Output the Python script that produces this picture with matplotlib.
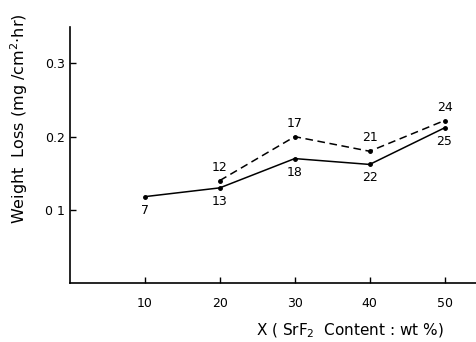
import matplotlib
matplotlib.use("Agg")
import matplotlib.pyplot as plt

# SrF2 content (wt%) and weight loss (mg/cm2.hr)
x_solid = [10, 20, 30, 40, 50]
y_solid = [0.118, 0.130, 0.170, 0.162, 0.212]
labels_solid = ["7", "13", "18", "22", "25"]

x_dash = [20, 30, 40, 50]
y_dash = [0.140, 0.200, 0.180, 0.222]
labels_dash = ["12", "17", "21", "24"]

xticks = [10, 20, 30, 40, 50]
yticks = [0.1, 0.2, 0.3]
ytick_labels = ["0 1", "0.2", "0.3"]

fig = plt.figure(figsize=(4.76, 3.42), dpi=100)
ax = fig.add_axes([0.147, 0.1725, 0.853, 0.749])

ax.plot(x_solid, y_solid, color="black", lw=1.1, marker="o", ms=2.5)
ax.plot(x_dash, y_dash, color="black", lw=1.1, ls=(0, (5, 3)), marker="o", ms=2.5)

for x, y, t in zip(x_solid, y_solid, labels_solid):
    ax.annotate(t, (x, y), xytext=(0, -5), textcoords="offset points",
                ha="center", va="top", fontsize=9)
for x, y, t in zip(x_dash, y_dash, labels_dash):
    ax.annotate(t, (x, y), xytext=(0, 5), textcoords="offset points",
                ha="center", va="bottom", fontsize=9)

ax.set_xlim(0, 54.2)
ax.set_ylim(0, 0.35)
ax.set_xticks(xticks)
ax.set_yticks(yticks)
ax.set_yticklabels(ytick_labels)
ax.tick_params(direction="in", length=4, labelsize=9, width=1)
ax.tick_params(axis="x", pad=10)

for s in ["top", "right"]:
    ax.spines[s].set_visible(False)
for s in ["left", "bottom"]:
    ax.spines[s].set_linewidth(1.2)

ax.set_ylabel("Weight  Loss (mg /cm$^2$$\\cdot$hr)", fontsize=11.5)
ax.set_xlabel("X ( SrF$_2$  Content : wt %)", fontsize=11)
ax.xaxis.set_label_coords(0.69, -0.15)
ax.yaxis.set_label_coords(-0.098, 0.64)

fig.savefig("out.png", dpi=100)
